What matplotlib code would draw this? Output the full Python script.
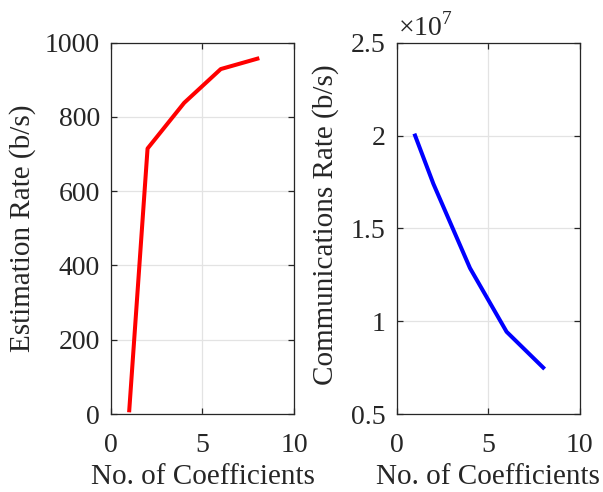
import numpy as np
import matplotlib.pyplot as plt
from matplotlib.ticker import FuncFormatter

plt.rcParams['font.family'] = ['Liberation Serif', 'DejaVu Serif']
plt.rcParams['mathtext.fontset'] = 'custom'
plt.rcParams['mathtext.rm'] = 'Liberation Serif'

# data
coeffs = [1, 2, 4, 6, 8]
est_rate = [10, 715, 838, 929, 957]
comm_rate = [2.0e7, 1.74e7, 1.286e7, 0.943e7, 0.75e7]

dark = '#262626'
fs_tick = 20
fs_lab = 21

fig = plt.figure(figsize=(6.03, 4.92), dpi=100)
ax1 = fig.add_axes([0.184, 0.1585, 0.3035, 0.7547])
ax2 = fig.add_axes([0.658, 0.1585, 0.3035, 0.7547])

ax1.plot(coeffs, est_rate, color=(1, 0, 0), lw=2.9)
ax1.set_xlim(0, 10)
ax1.set_ylim(0, 1000)
ax1.set_xticks([0, 5, 10])
ax1.set_yticks(np.arange(0, 1001, 200))
ax1.set_xlabel('No. of Coefficients', fontsize=fs_lab, color=dark)
ax1.set_ylabel('Estimation Rate (b/s)', fontsize=fs_lab, color=dark)
ax1.yaxis.set_label_coords(-0.41, 0.5)

ax2.plot(coeffs, comm_rate, color=(0, 0, 1), lw=2.9)
ax2.set_xlim(0, 10)
ax2.set_ylim(0.5e7, 2.5e7)
ax2.set_xticks([0, 5, 10])
ax2.set_yticks(np.arange(0.5e7, 2.51e7, 0.5e7))
ax2.yaxis.set_major_formatter(FuncFormatter(lambda v, p: f'{v / 1e7:g}'))
ax2.text(0.005, 1.018, r'$\times10^7$', transform=ax2.transAxes,
         fontsize=fs_tick, color=dark, ha='left', va='baseline')
ax2.set_xlabel('No. of Coefficients', fontsize=fs_lab, color=dark)
ax2.set_ylabel('Communications Rate (b/s)', fontsize=fs_lab, color=dark)
ax2.yaxis.set_label_coords(-0.318, 0.51)

for ax in (ax1, ax2):
    ax.grid(True, color='#e3e3e3', lw=0.9)
    ax.set_axisbelow(True)
    ax.tick_params(direction='in', length=4, width=0.9, top=True, right=True,
                   labelsize=fs_tick, colors=dark)
    ax.tick_params(axis='x', pad=14)
    ax.tick_params(axis='y', pad=8)
    ax.xaxis.set_label_coords(0.5, -0.135)
    for s in ax.spines.values():
        s.set_color(dark)
        s.set_linewidth(0.9)

fig.savefig('out.png', dpi=100)
